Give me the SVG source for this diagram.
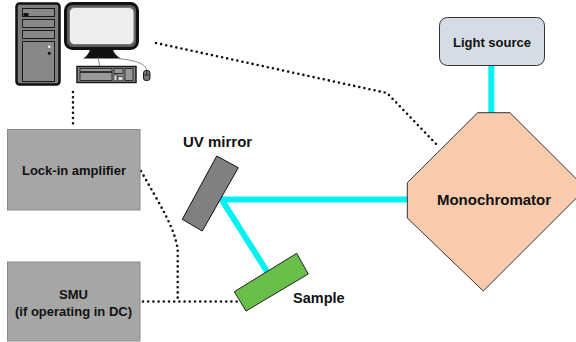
<svg xmlns="http://www.w3.org/2000/svg" width="576" height="342" viewBox="0 0 576 342">
  <style>
    .lbl { font-family: "Liberation Sans", Arial, sans-serif; font-weight: bold; fill: #111; }
    .box { fill: #a6a6a6; stroke: #8a8a8a; stroke-width: 1; }
    .dots { fill: none; stroke: #111; stroke-width: 2.6; stroke-linecap: round; stroke-dasharray: 0 5.2; }
    .beam { stroke: #00f2f2; stroke-width: 6; fill: none; }
    .pc { stroke: #1a1a1a; }
  </style>

  <!-- computer: tower, monitor, keyboard, mouse -->
  <g id="computer">
    <rect x="16.5" y="3.5" width="43" height="81" rx="3" fill="#7d7d7d" stroke="#111" stroke-width="2.5"/>
    <rect x="22.5" y="8.5" width="32" height="8" fill="#888" class="pc" stroke-width="1"/>
    <rect x="23.5" y="13" width="5" height="3" fill="#111"/>
    <rect x="22.5" y="19.5" width="32" height="8" fill="#888" class="pc" stroke-width="1"/>
    <rect x="22.5" y="30.5" width="32" height="8" fill="#888" class="pc" stroke-width="1"/>
    <rect x="22.5" y="41.5" width="32" height="40" fill="#888" class="pc" stroke-width="1"/>
    <circle cx="49.3" cy="46.7" r="1.2" fill="#fff"/>
    <circle cx="49.3" cy="53.3" r="1.5" fill="#111"/>

    <rect x="65.5" y="3.5" width="72" height="45" rx="7" fill="#5a5a5a" stroke="#111" stroke-width="3"/>
    <rect x="69.5" y="7.5" width="64.5" height="37" rx="5" fill="#eeeeee" stroke="#7a7a7a" stroke-width="1"/>
    <path d="M90,49 L113,49 Q114,55 121,58.5 L83,58.5 Q89,55 90,49 Z" fill="#111"/>

    <path d="M98,58 L100,66.5" stroke="#888" stroke-width="1" fill="none"/>
    <path d="M117,58.5 C134,60 145,63 147,70.5" stroke="#888" stroke-width="1" fill="none"/>

    <rect x="77" y="66.5" width="59" height="16" fill="#888" stroke="#1a1a1a" stroke-width="1.5"/>
    <rect x="80" y="68.5" width="32" height="3" fill="#999" class="pc" stroke-width="0.8"/>
    <rect x="80" y="72.5" width="32" height="8" fill="#999" class="pc" stroke-width="0.8"/>
    <rect x="114" y="68.5" width="9" height="5" fill="#999" class="pc" stroke-width="0.8"/>
    <rect x="114" y="75" width="3" height="5.5" fill="#ddd" class="pc" stroke-width="0.6"/>
    <rect x="118" y="76.5" width="5" height="4" fill="#ddd" class="pc" stroke-width="0.6"/>
    <rect x="125" y="68.5" width="8" height="12" fill="#999" class="pc" stroke-width="0.8"/>

    <rect x="143.5" y="70.5" width="6.5" height="10" rx="2.5" fill="#777" stroke="#1a1a1a" stroke-width="1"/>
    <line x1="143.5" y1="75" x2="150" y2="75" stroke="#1a1a1a" stroke-width="0.8"/>
    <line x1="146.75" y1="70.5" x2="146.75" y2="75" stroke="#1a1a1a" stroke-width="0.8"/>
  </g>

  <!-- optical beams -->
  <g id="beams">
    <line class="beam" x1="491.3" y1="65" x2="491.3" y2="114"/>
    <line class="beam" x1="220" y1="199.5" x2="408" y2="199.5"/>
    <line class="beam" x1="220" y1="197" x2="268" y2="273"/>
  </g>

  <!-- signal connectors -->
  <g id="connectors">
    <path class="dots" d="M156,43 L387,93 L439,147"/>
    <path class="dots" d="M73,92 L73,127"/>
    <path class="dots" d="M141,171 C160,205 175,228 177.7,250 L177.7,301.5"/>
    <path class="dots" d="M143,301.5 L239,301.5"/>
  </g>

  <g id="light-source">
    <rect x="439.5" y="17.5" width="105" height="48" rx="8" fill="#d6dce5" stroke="#333" stroke-width="1"/>
    <text class="lbl" x="492" y="46.5" font-size="13" text-anchor="middle">Light source</text>
  </g>

  <g id="monochromator">
    <polygon points="477.7,112.7 510,112.7 586,188.5 483.3,291 407.3,218 407.3,182.7" fill="#f8cbad" stroke="#333" stroke-width="1"/>
    <text class="lbl" x="494" y="205" font-size="15" text-anchor="middle">Monochromator</text>
  </g>

  <g id="uv-mirror">
    <polygon points="216.7,156 238.3,167.7 202.3,231 182.3,219.3" fill="#808080" stroke="#111" stroke-width="1"/>
    <text class="lbl" x="183" y="147" font-size="15">UV mirror</text>
  </g>

  <g id="sample">
    <polygon points="234.3,291.7 296.7,253.3 308.3,274 246,311" fill="#6abf4a" stroke="#222" stroke-width="1"/>
    <text class="lbl" x="293" y="303" font-size="14.5">Sample</text>
  </g>

  <g id="lock-in">
    <rect class="box" x="7.5" y="129.5" width="132.5" height="80.5"/>
    <text class="lbl" x="74" y="174.5" font-size="13" text-anchor="middle">Lock-in amplifier</text>
  </g>

  <g id="smu">
    <rect class="box" x="7.5" y="262" width="132.5" height="79"/>
    <text class="lbl" x="73.5" y="299" font-size="13" text-anchor="middle">SMU</text>
    <text class="lbl" x="73.5" y="316" font-size="13" text-anchor="middle">(if operating in DC)</text>
  </g>
</svg>
